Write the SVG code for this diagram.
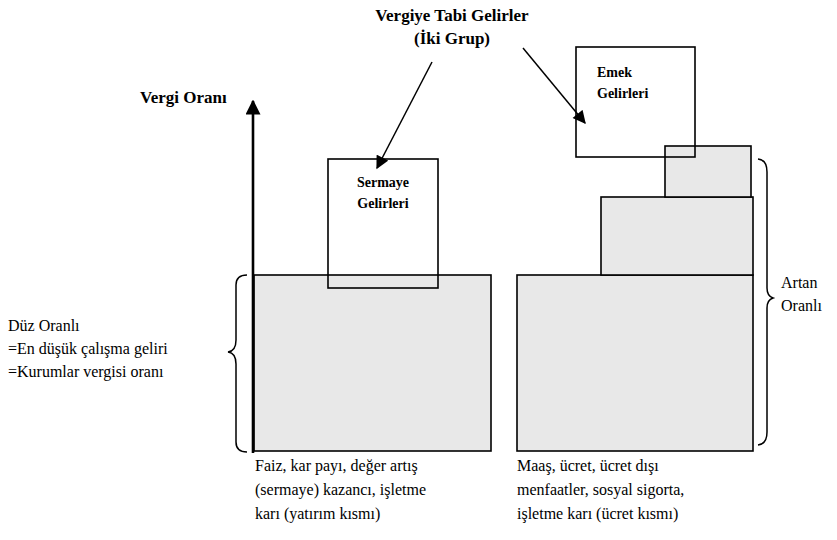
<svg xmlns="http://www.w3.org/2000/svg" width="837" height="540" viewBox="0 0 837 540">
<defs>
<style>
.bar{fill:#e8e8e8;stroke:#000;stroke-width:1.6}
.box{fill:none;stroke:#000;stroke-width:1.6}
.ln{fill:none;stroke:#000;stroke-width:1.5}
</style>
<marker id="ah" viewBox="0 0 10 10" refX="9" refY="5" markerWidth="14" markerHeight="13" markerUnits="userSpaceOnUse" orient="auto">
<path d="M0,0 L10,5 L0,10 z" fill="#000"/>
</marker>
<marker id="ah2" viewBox="0 0 10 10" refX="9" refY="5" markerWidth="15" markerHeight="15" markerUnits="userSpaceOnUse" orient="auto">
<path d="M0,0 L10,5 L0,10 z" fill="#000"/>
</marker>
</defs>
<g id="capital-bar">
<rect class="bar" x="254" y="275" width="237" height="176"/>
</g>
<g id="labor-bars">
<rect class="bar" x="517" y="275" width="236" height="176"/>
<rect class="bar" x="601" y="197" width="152" height="78"/>
<rect class="bar" x="665" y="146" width="86" height="51"/>
</g>
<g id="sermaye">
<rect class="box" x="328" y="159" width="110" height="129"/>
<text x="383" y="187" style="font-family:'Liberation Serif';font-size:14px;font-weight:bold" text-anchor="middle">Sermaye</text>
<text x="383" y="208" style="font-family:'Liberation Serif';font-size:14px;font-weight:bold" text-anchor="middle">Gelirleri</text>
</g>
<g id="emek">
<rect class="box" x="576" y="47" width="119" height="110"/>
<text x="597" y="77" style="font-family:'Liberation Serif';font-size:14px;font-weight:bold">Emek</text>
<text x="597" y="98" style="font-family:'Liberation Serif';font-size:14px;font-weight:bold">Gelirleri</text>
</g>
<g id="title">
<text x="452" y="21" style="font-family:'Liberation Serif';font-size:17px;font-weight:bold" text-anchor="middle">Vergiye Tabi Gelirler</text>
<text x="452" y="44" style="font-family:'Liberation Serif';font-size:17px;font-weight:bold" text-anchor="middle">(İki Grup)</text>
</g>
<g id="axis">
<text x="140" y="103" style="font-family:'Liberation Serif';font-size:17px;font-weight:bold">Vergi Oranı</text>
<line x1="253" y1="453" x2="253" y2="101" stroke="#000" stroke-width="2.6" marker-end="url(#ah2)"/>
</g>
<g id="connectors">
<line class="ln" x1="432" y1="62" x2="377" y2="168" marker-end="url(#ah)"/>
<line class="ln" x1="523" y1="48" x2="585" y2="123" marker-end="url(#ah)"/>
</g>
<g id="left-brace">
<path class="ln" d="M247,275 Q236,275 236,285 L236,340 Q236,351 228,352 Q236,353 236,364 L236,442 Q236,452 247,452"/>
<text x="8" y="331" style="font-family:'Liberation Serif';font-size:16px">Düz Oranlı</text>
<text x="8" y="354" style="font-family:'Liberation Serif';font-size:16px">=En düşük çalışma geliri</text>
<text x="8" y="377" style="font-family:'Liberation Serif';font-size:16px">=Kurumlar vergisi oranı</text>
</g>
<g id="right-brace">
<path class="ln" d="M758,159 Q767,160 767,172 L767,288 Q767,296 773,298 Q767,300 767,308 L767,432 Q767,444 758,445"/>
<text x="781" y="288" style="font-family:'Liberation Serif';font-size:16px">Artan</text>
<text x="781" y="311" style="font-family:'Liberation Serif';font-size:16px">Oranlı</text>
</g>
<g id="captions">
<text x="255" y="471" style="font-family:'Liberation Serif';font-size:16px">Faiz, kar payı, değer artış</text>
<text x="255" y="495" style="font-family:'Liberation Serif';font-size:16px">(sermaye) kazancı, işletme</text>
<text x="255" y="519" style="font-family:'Liberation Serif';font-size:16px">karı (yatırım kısmı)</text>
<text x="517" y="471" style="font-family:'Liberation Serif';font-size:16px">Maaş, ücret, ücret dışı</text>
<text x="517" y="495" style="font-family:'Liberation Serif';font-size:16px">menfaatler, sosyal sigorta,</text>
<text x="517" y="519" style="font-family:'Liberation Serif';font-size:16px">işletme karı (ücret kısmı)</text>
</g>
</svg>
